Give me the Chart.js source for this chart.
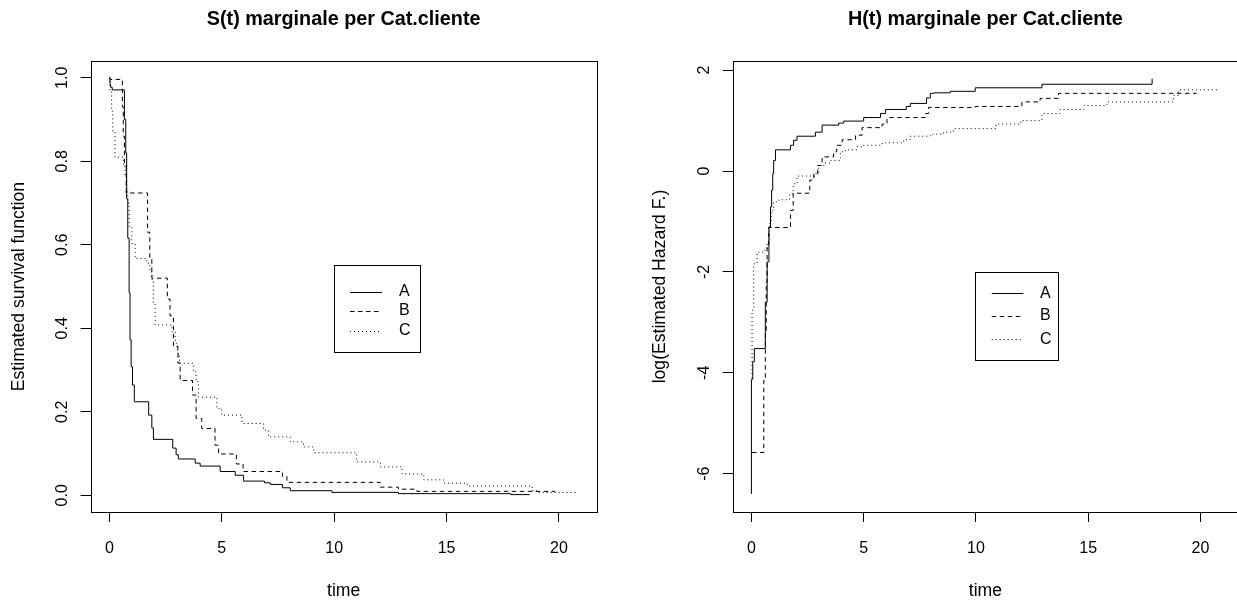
<!DOCTYPE html>
<html>
<head>
<meta charset="utf-8">
<script src="https://cdn.jsdelivr.net/npm/chart.js@4/dist/chart.umd.min.js"></script>
<style>
  html, body { margin: 0; padding: 0; background: #fff; width: 1237px; height: 602px; overflow: hidden; }
  #wrapL { position: absolute; left: 0; top: 0; width: 618px; height: 602px; }
  #wrapR { position: absolute; left: 618px; top: 0; width: 622px; height: 602px; }
</style>
</head>
<body>
<div id="wrapL"><canvas id="cL" width="618" height="602"></canvas></div>
<div id="wrapR"><canvas id="cR" width="622" height="602"></canvas></div>
<script>
// ---------------- DATA ----------------
const categories = ['A', 'B', 'C'];

// Left panel: Kaplan-Meier S(t) (time of step, value after step)
const tA_S = [0, 0.01, 0.03, 0.06, 0.13, 0.67, 0.73, 0.77, 0.82, 0.88, 0.92, 0.97, 1.03, 1.11, 1.75, 1.89, 1.96, 2.82, 2.97, 3.07, 3.82, 4.04, 4.93, 5.60, 5.97, 6.90, 7.16, 7.70, 8.05, 9.90, 12.86, 17.85, 18.70];
const sA   = [1.0, 0.998, 0.984, 0.977, 0.971, 0.90, 0.82, 0.71, 0.616, 0.485, 0.372, 0.308, 0.264, 0.224, 0.192, 0.161, 0.134, 0.113, 0.097, 0.087, 0.077, 0.070, 0.057, 0.048, 0.034, 0.030, 0.026, 0.018, 0.011, 0.007, 0.004, 0.0017, 0.0017];

const tB_S = [0, 0.03, 0.58, 0.62, 0.67, 0.75, 1.70, 1.80, 1.89, 2.58, 2.70, 2.85, 3.05, 3.15, 3.70, 3.86, 4.11, 4.70, 4.86, 5.65, 5.95, 7.70, 7.90, 12.05, 12.86, 13.68, 19.83];
const sB   = [1.0, 0.996, 0.93, 0.86, 0.79, 0.724, 0.63, 0.57, 0.52, 0.47, 0.43, 0.356, 0.317, 0.275, 0.24, 0.184, 0.160, 0.12, 0.099, 0.075, 0.057, 0.045, 0.031, 0.0195, 0.0147, 0.0094, 0.0094];

const tC_S = [0, 0.03, 0.10, 0.15, 0.25, 0.62, 0.70, 0.77, 0.82, 0.88, 1.00, 1.15, 1.67, 1.81, 1.90, 1.96, 2.04, 2.78, 2.93, 3.03, 3.12, 3.74, 3.86, 3.97, 4.78, 5.00, 5.90, 6.86, 7.08, 8.05, 8.64, 9.09, 11.00, 12.06, 13.02, 13.99, 14.88, 15.92, 18.81, 19.02, 20.78];
const sC   = [1.0, 0.97, 0.92, 0.87, 0.81, 0.787, 0.763, 0.731, 0.70, 0.643, 0.603, 0.567, 0.556, 0.535, 0.516, 0.46, 0.408, 0.392, 0.364, 0.34, 0.316, 0.296, 0.272, 0.235, 0.208, 0.192, 0.172, 0.156, 0.140, 0.128, 0.116, 0.102, 0.080, 0.068, 0.051, 0.037, 0.029, 0.022, 0.011, 0.0067, 0.0067];

// Right panel: log(estimated cumulative hazard)
const tA_H = [0, 0, 0.06, 0.13, 0.62, 0.70, 0.78, 0.85, 0.90, 0.95, 0.99, 1.07, 1.74, 1.88, 2.03, 2.85, 3.15, 3.89, 4.11, 5.00, 5.75, 5.97, 6.90, 7.08, 7.80, 7.97, 8.14, 8.86, 9.97, 12.94, 17.85];
const hA   = [-6.40, -4.13, -3.78, -3.52, -2.60, -1.80, -1.11, -0.71, -0.38, -0.05, 0.21, 0.42, 0.51, 0.61, 0.69, 0.77, 0.91, 0.95, 0.99, 1.06, 1.14, 1.22, 1.28, 1.34, 1.45, 1.54, 1.55, 1.58, 1.65, 1.72, 1.83];

const tB_H = [0.03, 0.55, 0.62, 0.66, 0.70, 0.77, 1.74, 1.86, 2.60, 2.78, 2.95, 3.15, 3.66, 3.80, 4.04, 4.64, 4.93, 5.82, 6.04, 7.76, 7.89, 9.97, 12.05, 12.86, 13.68, 19.83];
const hB   = [-5.58, -4.15, -3.16, -2.20, -1.50, -1.12, -0.78, -0.44, -0.18, -0.05, 0.11, 0.28, 0.38, 0.51, 0.62, 0.71, 0.86, 0.93, 1.06, 1.14, 1.26, 1.28, 1.37, 1.44, 1.54, 1.54];

const tC_H = [0.02, 0.03, 0.10, 0.25, 0.55, 0.70, 0.81, 0.88, 0.99, 1.22, 1.70, 1.86, 2.03, 2.85, 3.00, 3.23, 3.52, 3.96, 4.18, 4.70, 4.93, 5.82, 6.78, 7.08, 7.97, 8.56, 9.00, 10.90, 12.00, 12.94, 13.75, 14.82, 15.83, 18.80, 19.02, 20.80];
const hC   = [-4.10, -2.76, -1.84, -1.61, -1.57, -1.41, -1.04, -0.78, -0.61, -0.57, -0.45, -0.25, -0.10, -0.05, 0.11, 0.16, 0.21, 0.38, 0.42, 0.48, 0.51, 0.56, 0.62, 0.69, 0.73, 0.77, 0.84, 0.93, 1.00, 1.14, 1.22, 1.30, 1.37, 1.50, 1.61, 1.61];

// Tick values and labels
const xTickValues = [0, 5, 10, 15, 20];
const xTickLabels = ['0', '5', '10', '15', '20'];
const sTickValues = [0, 0.2, 0.4, 0.6, 0.8, 1.0];
const sTickLabels = ['0.0', '0.2', '0.4', '0.6', '0.8', '1.0'];
const hTickValues = [-6, -4, -2, 0, 2];
const hTickLabels = ['-6', '-4', '-2', '0', '2'];

// ---------------- STYLE ----------------
const FONT = '"Liberation Sans", Arial, Helvetica, sans-serif';
Chart.defaults.font.family = FONT;
Chart.defaults.color = '#000';
const dashes = [[], [4.5, 3.5], [1, 3]];

function pts(ts, vs) { return ts.map((t, i) => ({ x: t, y: vs[i] })); }
function makeDatasets(series) {
  return series.map((s, i) => ({
    label: categories[i],
    data: pts(s[0], s[1]),
    borderColor: '#000',
    borderWidth: 1,
    borderDash: dashes[i],
    pointRadius: 0,
    stepped: 'before',
    fill: false
  }));
}

const rFrame = {
  id: 'rFrame',
  afterDatasetsDraw(chart, args, opts) {
    const { ctx, chartArea: a } = chart;
    ctx.save();
    ctx.strokeStyle = '#000';
    ctx.lineWidth = 1;
    ctx.setLineDash([]);
    const l = Math.round(a.left), t = Math.round(a.top), r = Math.round(a.right), b = Math.round(a.bottom);
    ctx.strokeRect(l + 0.5, t + 0.5, r - l, b - t);
    const L = opts.legend;
    if (L) {
      ctx.fillStyle = '#fff';
      ctx.fillRect(L.x, L.y, L.w, L.h);
      ctx.strokeRect(Math.round(L.x) + 0.5, Math.round(L.y) + 0.5, Math.round(L.w), Math.round(L.h));
      chart.data.datasets.forEach((ds, i) => {
        const y = Math.round(L.rows[i]) + 0.5;
        ctx.setLineDash(ds.borderDash || []);
        ctx.beginPath();
        ctx.moveTo(L.x1, y);
        ctx.lineTo(L.x2, y);
        ctx.stroke();
        ctx.setLineDash([]);
        ctx.font = '16px ' + FONT;
        ctx.textBaseline = 'middle';
        ctx.textAlign = 'left';
        ctx.fillStyle = '#000';
        ctx.fillText(ds.label, L.tx, L.rows[i]);
      });
    }
    ctx.restore();
  }
};

function axisCommon() {
  return {
    grid: { display: true, drawOnChartArea: false, drawTicks: true, tickLength: 10, color: '#000', lineWidth: 1 },
    border: { display: false }
  };
}

function makeChart(id, cfg) {
  return new Chart(document.getElementById(id), {
    type: 'line',
    data: { datasets: makeDatasets(cfg.series) },
    plugins: [rFrame],
    options: {
      responsive: false,
      animation: false,
      devicePixelRatio: 1,
      layout: { padding: { left: 0, right: cfg.padRight, top: 0, bottom: 0 } },
      plugins: {
        legend: { display: false },
        tooltip: { enabled: false },
        title: {
          display: true, text: cfg.title, fullSize: false, color: '#000',
          font: { size: 19.8, weight: 'bold', family: FONT, lineHeight: 1.2 },
          padding: { top: 8.1, bottom: 29.2 }
        },
        rFrame: { legend: cfg.legend }
      },
      scales: {
        x: Object.assign(axisCommon(), {
          type: 'linear', position: 'bottom', min: -0.834, max: 21.68,
          afterBuildTicks: s => { s.ticks = xTickValues.map(v => ({ value: v })); },
          afterFit: s => { s.height = 90; },
          ticks: {
            autoSkip: false, maxRotation: 0, minRotation: 0, padding: 17.4,
            font: { size: 16, family: FONT, lineHeight: 1.2 },
            callback: (v, i) => xTickLabels[i]
          },
          title: { display: true, text: 'time', font: { size: 17.6, family: FONT, lineHeight: 1.2 }, padding: { top: 0, bottom: 0 } }
        }),
        y: Object.assign(axisCommon(), {
          type: 'linear', position: 'left', min: cfg.yMin, max: cfg.yMax,
          afterBuildTicks: s => { s.ticks = cfg.yTicks.map(v => ({ value: v })); },
          afterFit: s => { s.width = cfg.yWidth; },
          ticks: {
            autoSkip: false, minRotation: 90, maxRotation: 90, crossAlign: 'center', padding: cfg.yTickPad,
            font: { size: 16, family: FONT, lineHeight: 1.2 },
            callback: (v, i) => cfg.yLabels[i]
          },
          title: { display: true, text: cfg.yTitle, font: { size: 17.6, family: FONT, lineHeight: 1.2 }, padding: { top: cfg.yTitlePad, bottom: 0 } }
        })
      }
    }
  });
}

makeChart('cL', {
  series: [[tA_S, sA], [tB_S, sB], [tC_S, sC]],
  title: 'S(t) marginale per Cat.cliente',
  yTitle: 'Estimated survival function',
  yMin: -0.04, yMax: 1.04,
  yTicks: sTickValues, yLabels: sTickLabels,
  yWidth: 90.6, yTickPad: 6.7, yTitlePad: 9,
  padRight: 21.3,
  legend: { x: 334, y: 265, w: 86, h: 87, x1: 350, x2: 382, tx: 399, rows: [291.7, 310.7, 330.7] }
});

makeChart('cR', {
  series: [[tA_H, hA], [tB_H, hB], [tC_H, hC]],
  title: 'H(t) marginale per Cat.cliente',
  yTitle: 'log(Estimated Hazard F.)',
  yMin: -6.76, yMax: 2.18,
  yTicks: hTickValues, yLabels: hTickLabels,
  yWidth: 114.7, yTickPad: 10.7, yTitlePad: 31.4,
  padRight: 1.9,
  legend: { x: 357, y: 271.7, w: 83.3, h: 88.3, x1: 373.7, x2: 405.3, tx: 422, rows: [293.3, 316, 339.3] }
});
</script>
</body>
</html>
